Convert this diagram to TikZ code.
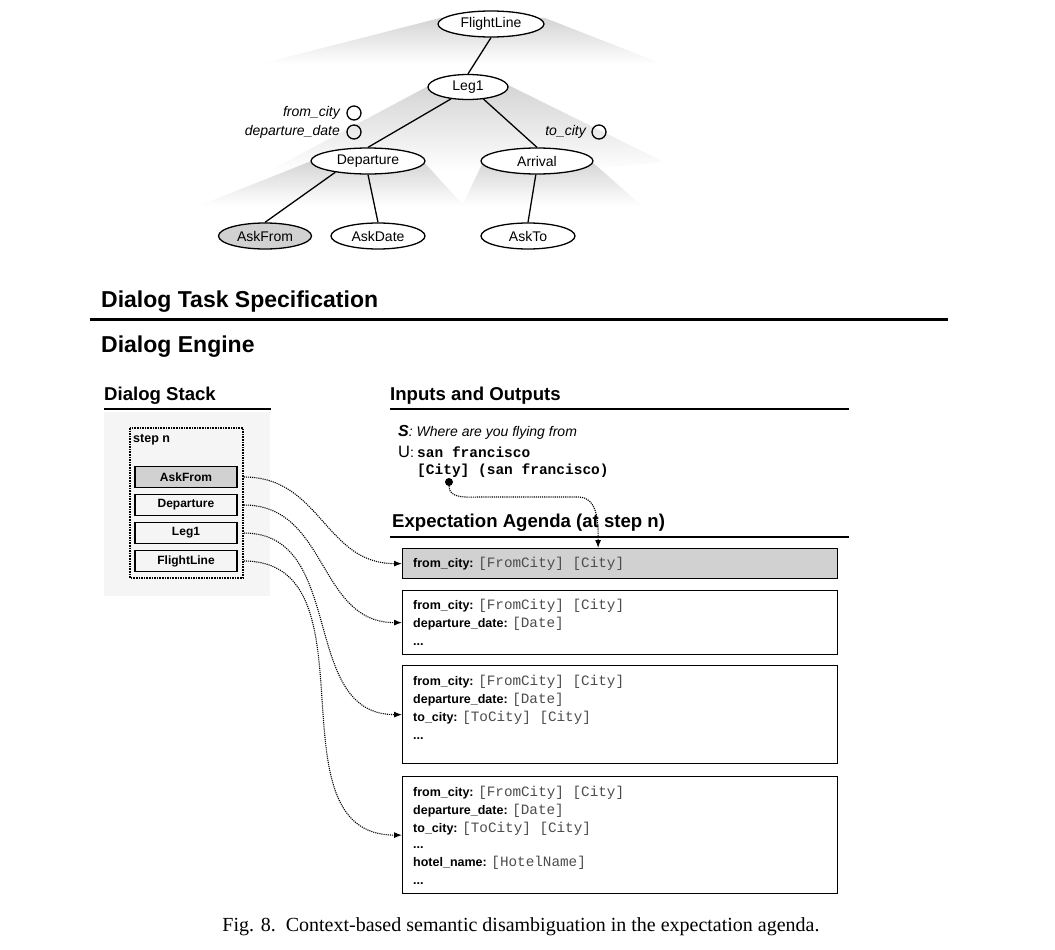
\documentclass[tikz,border=0pt]{standalone}
\usepackage{fontspec}
\setmainfont{Liberation Sans}
\setmonofont{Liberation Mono}
\newfontfamily\capfont{Liberation Serif}
\usetikzlibrary{arrows.meta,shapes.geometric}
\newcommand\agf[2]{{\fontsize{12.5}{14}\selectfont\bfseries #1} {\ttfamily\mdseries\fontsize{14.3}{16}\selectfont\color{black!70}#2}}
\begin{document}
\begin{tikzpicture}[x=1pt,y=-1pt,
 tnode/.style={ellipse,draw,line width=1.3pt,fill=white,inner sep=0pt,minimum height=26pt,font=\fontsize{14}{16}\selectfont},
 tedge/.style={line width=1.3pt},
 slot/.style={circle,draw,line width=1.3pt,minimum size=14pt,inner sep=0pt},
 slotlbl/.style={anchor=east,inner sep=0pt,font=\fontsize{14}{16}\selectfont\itshape},
 fan/.style={top color=black!17,bottom color=white,draw=none},
 bighead/.style={anchor=base west,inner sep=0pt,font=\fontsize{23}{26}\selectfont\bfseries},
 head/.style={anchor=base west,inner sep=0pt,font=\fontsize{18.6}{21}\selectfont\bfseries},
 stackbox/.style={draw,line width=1.5pt,minimum width=102pt,minimum height=21pt,inner sep=0pt,font=\fontsize{12}{14}\selectfont\bfseries},
 agbox/.style={draw,line width=1.2pt,minimum width=435pt,inner sep=0pt,anchor=north west},
 agtxt/.style={anchor=base west,inner sep=0pt,font=\fontsize{12.5}{14}\selectfont\bfseries},
 link/.style={densely dotted,line width=1.1pt,-{Latex[length=8pt,width=6pt]}},
]
\useasboundingbox (0,0) rectangle (1055,950);
% fans
\begin{scope}
\clip (440,18) -- (545,18) -- (668,66) -- (252,66) -- cycle;
\shade[fan] (250,18) rectangle (670,64);
\end{scope}
\begin{scope}
\clip (432,84) -- (506,84) -- (664,162) -- (205,205) -- cycle;
\shade[fan] (200,84) rectangle (670,172);
\end{scope}
\begin{scope}
\clip (314,160) -- (422,160) -- (464,206) -- (198,206) -- cycle;
\shade[fan] (198,160) rectangle (470,206);
\end{scope}
\begin{scope}
\clip (484,160) -- (590,160) -- (642,206) -- (462,206) -- cycle;
\shade[fan] (460,160) rectangle (645,206);
\end{scope}
% tree
\node[tnode,minimum width=106pt] (fl) at (491,24) {FlightLine};
\node[tnode,minimum width=80pt,minimum height=25pt] (leg) at (468,87) {Leg1};
\node[tnode,minimum width=114pt] (dep) at (368,161) {Departure};
\node[tnode,minimum width=112pt] (arr) at (537,161) {Arrival};
\node[tnode,minimum width=93pt,fill=black!18] (askf) at (265,236) {AskFrom};
\node[tnode,minimum width=94pt] (askd) at (378,236) {AskDate};
\node[tnode,minimum width=94pt] (askt) at (528,236) {AskTo};
\draw[tedge] (fl.south) -- (leg.north);
\draw[tedge] (leg.215) -- (dep.north);
\draw[tedge] (leg.-38) -- (arr.north);
\draw[tedge] (dep.199) -- (askf.north);
\draw[tedge] (dep.south) -- (askd.north);
\draw[tedge] (arr.265) -- (askt.north);
\node[slot] (s1) at (354,113) {};
\node[slot] (s2) at (354,132) {};
\node[slot] (s3) at (599,132) {};
\node[slotlbl] (l1) at (340,113) {from\_city};
\node[slotlbl] (l2) at (340,132) {departure\_date};
\node[slotlbl] (l3) at (586,132) {to\_city};
% headings
\node[bighead] (dts) at (101,307) {Dialog Task Specification};
\draw[line width=3pt] (90,319) -- (948,319);
\node[bighead] (de) at (101,352) {Dialog Engine};
% dialog stack
\fill[black!4] (104,412) rectangle (270,596);
\node[head] (dsh) at (104,400) {Dialog Stack};
\draw[line width=1.5pt] (104,409) -- (271,409);
\draw[densely dotted,line width=1.6pt] (130,428) rectangle (243,578);
\node[anchor=base west,inner sep=0pt,font=\fontsize{12.5}{14}\selectfont\bfseries] (stepn) at (133,442) {step n};
\node[stackbox,fill=black!18] (sk1) at (186,477) {AskFrom};
\node[stackbox] (sk2) at (186,505) {Departure};
\node[stackbox] (sk3) at (186,533) {Leg1};
\node[stackbox] (sk4) at (186,561) {FlightLine};
% inputs and outputs
\node[head] (ioh) at (390,400) {Inputs and Outputs};
\draw[line width=1.5pt] (390,409) -- (849,409);
\node[anchor=base west,inner sep=0pt,font=\fontsize{14}{16}\selectfont\itshape] (sline) at (398,436) {{\fontsize{16}{16}\selectfont\bfseries S}: Where are you flying from};
\node[anchor=base west,inner sep=0pt,font=\fontsize{16.5}{18}\selectfont] (uline) at (398,457) {U\fontsize{14}{16}\selectfont: };
\node[anchor=base west,inner sep=0pt,font=\fontsize{14.5}{16}\selectfont\ttfamily\bfseries] (sf) at (417,457) {san francisco};
\node[anchor=base west,inner sep=0pt,font=\fontsize{14.5}{16}\selectfont\ttfamily\bfseries] (cityp) at (417,474) {[City] (san francisco)};
\node[circle,fill,inner sep=0pt,minimum size=8pt] (dot) at (449,482) {};
% expectation agenda
\node[head] (eah) at (392,527) {Expectation Agenda (at step n)};
\draw[line width=1.5pt] (390,537) -- (849,537);
\node[agbox,fill=black!18,minimum height=30pt] (b1) at (402,548) {};
\node[agbox,minimum height=64pt] (b2) at (402,590) {};
\node[agbox,minimum height=98pt] (b3) at (402,665) {};
\node[agbox,minimum height=117pt] (b4) at (402,776) {};
\node[agtxt] at (413,567) {\agf{from\_city:}{[FromCity] [City]}};
\node[agtxt] at (413,609) {\agf{from\_city:}{[FromCity] [City]}};
\node[agtxt] at (413,627) {\agf{departure\_date:}{[Date]}};
\node[agtxt] at (413,645) {...};
\node[agtxt] at (413,685) {\agf{from\_city:}{[FromCity] [City]}};
\node[agtxt] at (413,703) {\agf{departure\_date:}{[Date]}};
\node[agtxt] at (413,721) {\agf{to\_city:}{[ToCity] [City]}};
\node[agtxt] at (413,739) {...};
\node[agtxt] at (413,796) {\agf{from\_city:}{[FromCity] [City]}};
\node[agtxt] at (413,814) {\agf{departure\_date:}{[Date]}};
\node[agtxt] at (413,832) {\agf{to\_city:}{[ToCity] [City]}};
\node[agtxt] at (413,848) {...};
\node[agtxt] at (413,866) {\agf{hotel\_name:}{[HotelName]}};
\node[agtxt] at (413,884) {...};
% connectors
\draw[link] ([xshift=6pt]sk1.east) to[out=0,in=180,looseness=1.1] (b1.west);
\draw[link] ([xshift=6pt]sk2.east) to[out=0,in=180,looseness=1.1] (b2.west);
\draw[link] ([xshift=6pt]sk3.east) to[out=0,in=180,looseness=1.1] (b3.west);
\draw[link] ([xshift=6pt]sk4.east) to[out=0,in=180,looseness=1.1] (b4.west);
\coordinate (c1) at (480,497);
\coordinate (c2) at (578,497);
\draw[link] (dot) to[out=-90,in=180] (c1) -- (c2) to[out=0,in=90] ([xshift=-22pt]b1.north);
% caption
\node[anchor=base,inner sep=0pt,font=\capfont\fontsize{20}{22}\selectfont] (cap) at (521,931) {Fig. 8.\ \ Context-based semantic disambiguation in the expectation agenda.};
\end{tikzpicture}
\end{document}
